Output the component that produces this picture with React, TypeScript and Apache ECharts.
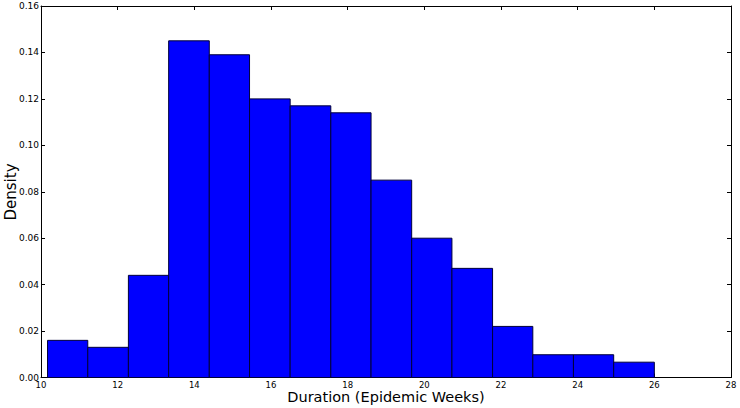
import React, { useEffect, useRef } from "react";
import * as echarts from "echarts";

const binEdges = [10.17, 11.22, 12.28, 13.33, 14.39, 15.44, 16.5, 17.56, 18.61, 19.67, 20.72, 21.78, 22.83, 23.89, 24.94, 26.0];
const densities = [0.016, 0.013, 0.044, 0.145, 0.139, 0.12, 0.117, 0.114, 0.085, 0.06, 0.047, 0.022, 0.0098, 0.0098, 0.0066];
const xTicks = [10, 12, 14, 16, 18, 20, 22, 24, 26, 28];
const yTicks = [0, 0.02, 0.04, 0.06, 0.08, 0.1, 0.12, 0.14, 0.16];
const xLabel = "Duration (Epidemic Weeks)";
const yLabel = "Density";

const FONT = "DejaVu Sans";

export default function App() {
  const ref = useRef<HTMLDivElement>(null);
  useEffect(() => {
    if (!ref.current) return;
    const chart = echarts.init(ref.current, null, { renderer: "svg" });
    const data = densities.map((d, i) => [binEdges[i], binEdges[i + 1], d]);
    const xMin = xTicks[0];
    const xMax = xTicks[xTicks.length - 1];
    const yMin = yTicks[0];
    const yMax = yTicks[yTicks.length - 1];
    const axisLine = { show: true, onZero: false, lineStyle: { color: "#000", width: 1 } };
    const tick = { show: true, inside: true, length: 4, lineStyle: { color: "#000", width: 1 } };
    chart.setOption({
      animation: false,
      backgroundColor: "#fff",
      grid: { left: 41, top: 6, right: 9, bottom: 30.5, containLabel: false, outerBoundsMode: "none" },
      graphic: [
        {
          type: "text",
          x: 386,
          y: 397,
          style: {
            text: xLabel,
            fontFamily: FONT,
            fontSize: 14.5,
            fill: "#000",
            align: "center",
            verticalAlign: "middle",
          },
        },
        {
          type: "text",
          x: 11,
          y: 192,
          rotation: Math.PI / 2,
          style: {
            text: yLabel,
            fontFamily: FONT,
            fontSize: 15,
            fill: "#000",
            align: "center",
            verticalAlign: "middle",
          },
        },
      ],
      xAxis: [
        {
          type: "value",
          min: xMin,
          max: xMax,
          interval: 2,
          axisLine,
          axisTick: tick,
          splitLine: { show: false },
          axisLabel: {
            color: "#000",
            fontFamily: FONT,
            fontSize: 8.5,
            margin: 3,
            formatter: (v: number) => String(v),
          },
        },
        {
          type: "value",
          position: "top",
          min: xMin,
          max: xMax,
          interval: 2,
          axisLine,
          axisTick: tick,
          splitLine: { show: false },
          axisLabel: { show: false },
        },
      ],
      yAxis: [
        {
          type: "value",
          min: yMin,
          max: yMax,
          interval: 0.02,
          axisLine,
          axisTick: tick,
          splitLine: { show: false },
          axisLabel: {
            color: "#000",
            fontFamily: FONT,
            fontSize: 9,
            margin: 2,
            formatter: (v: number) => v.toFixed(2),
          },
        },
        {
          type: "value",
          position: "right",
          min: yMin,
          max: yMax,
          interval: 0.02,
          axisLine,
          axisTick: tick,
          splitLine: { show: false },
          axisLabel: { show: false },
        },
      ],
      series: [
        {
          type: "custom",
          xAxisIndex: 0,
          yAxisIndex: 0,
          encode: { x: [0, 1], y: 2 },
          data,
          renderItem: (params: any, api: any) => {
            const x0 = api.value(0);
            const x1 = api.value(1);
            const y = api.value(2);
            const p0 = api.coord([x0, y]);
            const p1 = api.coord([x1, 0]);
            return {
              type: "rect",
              shape: { x: p0[0], y: p0[1], width: p1[0] - p0[0], height: p1[1] - p0[1] },
              style: { fill: "#0000ff", stroke: "#00003a", lineWidth: 1 },
            };
          },
          z: 1,
        },
      ],
    });
    return () => chart.dispose();
  }, []);
  return <div ref={ref} style={{ width: 740, height: 408, position: "absolute", left: 0, top: 0 }} />;
}
